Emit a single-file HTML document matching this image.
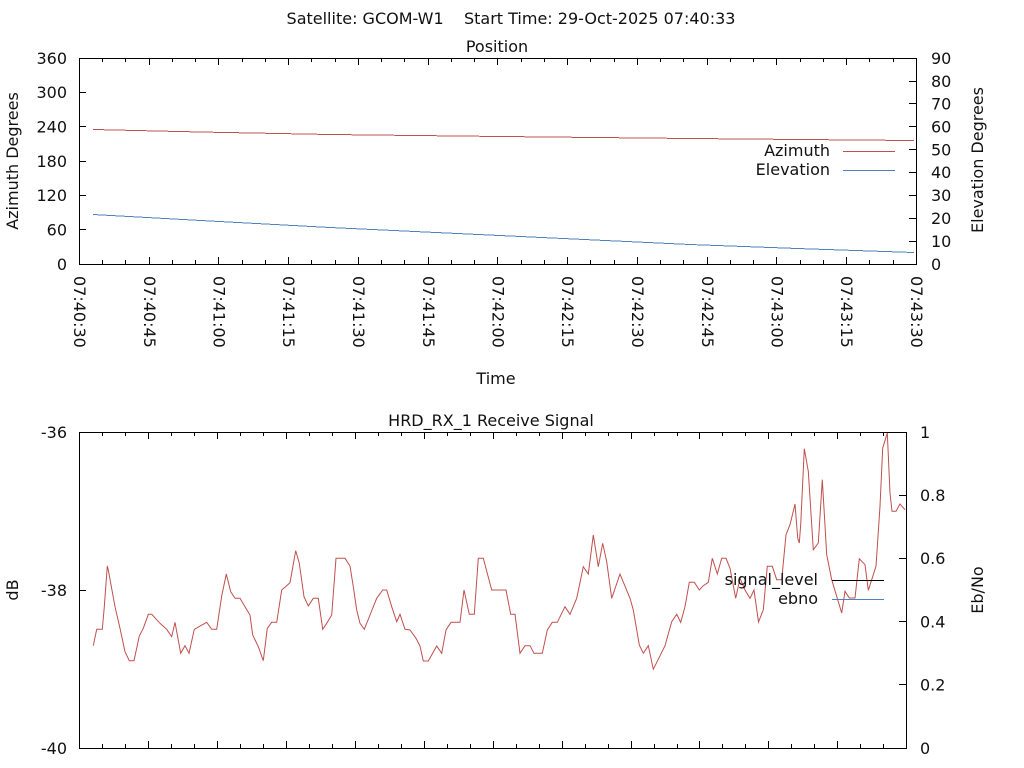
<!DOCTYPE html>
<html><head><meta charset="utf-8"><style>
html,body{margin:0;padding:0;background:#fff;}
svg{display:block;}
text{font-family:"DejaVu Sans","Liberation Sans",sans-serif;font-size:16px;fill:#111;}
</style></head><body>
<svg xmlns="http://www.w3.org/2000/svg" width="1024" height="768" viewBox="0 0 1024 768">
<rect width="1024" height="768" fill="#fff"/>
<text x="511" y="24" text-anchor="middle" xml:space="preserve">Satellite: GCOM-W1    Start Time: 29-Oct-2025 07:40:33</text>
<text x="497" y="52" text-anchor="middle">Position</text>

<!-- upper plot -->
<g stroke="#000" stroke-width="1" fill="none" shape-rendering="crispEdges">
<rect x="79.5" y="58.5" width="837" height="206"/>
<path d="M79.5 58v7M79.5 264v-7
M102.5 58v4M102.5 264v-4M125.5 58v4M125.5 264v-4
M149.5 58v7M149.5 264v-7
M172.5 58v4M172.5 264v-4M195.5 58v4M195.5 264v-4
M218.5 58v7M218.5 264v-7
M242.5 58v4M242.5 264v-4M265.5 58v4M265.5 264v-4
M288.5 58v7M288.5 264v-7
M311.5 58v4M311.5 264v-4M335.5 58v4M335.5 264v-4
M358.5 58v7M358.5 264v-7
M381.5 58v4M381.5 264v-4M404.5 58v4M404.5 264v-4
M428.5 58v7M428.5 264v-7
M451.5 58v4M451.5 264v-4M474.5 58v4M474.5 264v-4
M497.5 58v7M497.5 264v-7
M521.5 58v4M521.5 264v-4M544.5 58v4M544.5 264v-4
M567.5 58v7M567.5 264v-7
M590.5 58v4M590.5 264v-4M614.5 58v4M614.5 264v-4
M637.5 58v7M637.5 264v-7
M660.5 58v4M660.5 264v-4M683.5 58v4M683.5 264v-4
M707.5 58v7M707.5 264v-7
M730.5 58v4M730.5 264v-4M753.5 58v4M753.5 264v-4
M776.5 58v7M776.5 264v-7
M800.5 58v4M800.5 264v-4M823.5 58v4M823.5 264v-4
M846.5 58v7M846.5 264v-7
M869.5 58v4M869.5 264v-4M893.5 58v4M893.5 264v-4
M916.5 58v7M916.5 264v-7
M79 229.5h7M79 195.5h7M79 161.5h7M79 126.5h7M79 92.5h7
M916 241.5h-7M916 218.5h-7M916 195.5h-7M916 172.5h-7M916 149.5h-7M916 126.5h-7M916 103.5h-7M916 81.5h-7"/>
</g>
<g text-anchor="end">
<text x="67" y="64">360</text>
<text x="67" y="98">300</text>
<text x="67" y="132.5">240</text>
<text x="67" y="167">180</text>
<text x="67" y="201">120</text>
<text x="67" y="235.5">60</text>
<text x="67" y="270">0</text>
</g>
<g>
<text x="931" y="64">90</text>
<text x="931" y="87">80</text>
<text x="931" y="109.5">70</text>
<text x="931" y="132.5">60</text>
<text x="931" y="155.5">50</text>
<text x="931" y="178">40</text>
<text x="931" y="201">30</text>
<text x="931" y="224">20</text>
<text x="931" y="247">10</text>
<text x="931" y="270">0</text>
</g>
<text transform="translate(18,161) rotate(-90)" text-anchor="middle">Azimuth Degrees</text>
<text transform="translate(983,160) rotate(-90)" text-anchor="middle">Elevation Degrees</text>

<g>
<text transform="translate(74,276) rotate(90)">07:40:30</text>
<text transform="translate(144,276) rotate(90)">07:40:45</text>
<text transform="translate(213.5,276) rotate(90)">07:41:00</text>
<text transform="translate(283,276) rotate(90)">07:41:15</text>
<text transform="translate(353,276) rotate(90)">07:41:30</text>
<text transform="translate(423,276) rotate(90)">07:41:45</text>
<text transform="translate(492.5,276) rotate(90)">07:42:00</text>
<text transform="translate(562,276) rotate(90)">07:42:15</text>
<text transform="translate(632,276) rotate(90)">07:42:30</text>
<text transform="translate(702,276) rotate(90)">07:42:45</text>
<text transform="translate(771.5,276) rotate(90)">07:43:00</text>
<text transform="translate(841,276) rotate(90)">07:43:15</text>
<text transform="translate(911,276) rotate(90)">07:43:30</text>
</g>
<text x="496" y="384" text-anchor="middle">Time</text>

<polyline fill="none" stroke="#c0504d" stroke-width="1" shape-rendering="crispEdges" points="93,129.5 200,132 330,134.5 500,136.5 690,138.5 800,139.5 914,140.5"/>
<polyline fill="none" stroke="#4f81bd" stroke-width="1" shape-rendering="crispEdges" points="93,214.5 210,221 330,227.5 510,236 690,244.5 800,248.6 914,252.5"/>

<text x="830" y="156" text-anchor="end">Azimuth</text>
<text x="830" y="175" text-anchor="end">Elevation</text>
<g shape-rendering="crispEdges" stroke-width="1">
<path d="M843 151.5h52" stroke="#c0504d"/>
<path d="M843 170.5h52" stroke="#4f81bd"/>
</g>

<!-- lower plot -->
<text x="491" y="426" text-anchor="middle">HRD_RX_1 Receive Signal</text>
<g stroke="#000" stroke-width="1" fill="none" shape-rendering="crispEdges">
<rect x="79.5" y="432.5" width="827" height="316"/>
<path d="M79.5 432v7M79.5 748v-7
M102.5 432v4M102.5 748v-4M125.5 432v4M125.5 748v-4
M148.5 432v7M148.5 748v-7
M171.5 432v4M171.5 748v-4M194.5 432v4M194.5 748v-4
M217.5 432v7M217.5 748v-7
M240.5 432v4M240.5 748v-4M263.5 432v4M263.5 748v-4
M286.5 432v7M286.5 748v-7
M309.5 432v4M309.5 748v-4M332.5 432v4M332.5 748v-4
M355.5 432v7M355.5 748v-7
M378.5 432v4M378.5 748v-4M401.5 432v4M401.5 748v-4
M424.5 432v7M424.5 748v-7
M447.5 432v4M447.5 748v-4M470.5 432v4M470.5 748v-4
M493.5 432v7M493.5 748v-7
M516.5 432v4M516.5 748v-4M539.5 432v4M539.5 748v-4
M562.5 432v7M562.5 748v-7
M585.5 432v4M585.5 748v-4M608.5 432v4M608.5 748v-4
M631.5 432v7M631.5 748v-7
M654.5 432v4M654.5 748v-4M677.5 432v4M677.5 748v-4
M699.5 432v7M699.5 748v-7
M722.5 432v4M722.5 748v-4M745.5 432v4M745.5 748v-4
M768.5 432v7M768.5 748v-7
M791.5 432v4M791.5 748v-4M814.5 432v4M814.5 748v-4
M837.5 432v7M837.5 748v-7
M860.5 432v4M860.5 748v-4M883.5 432v4M883.5 748v-4
M906.5 432v7M906.5 748v-7
M79 590.5h7
M906 495.5h-7M906 558.5h-7M906 621.5h-7M906 684.5h-7"/>
</g>
<g text-anchor="end">
<text x="67" y="438">-36</text>
<text x="67" y="596">-38</text>
<text x="67" y="754">-40</text>
</g>
<g>
<text x="920" y="438">1</text>
<text x="920" y="501">0.8</text>
<text x="920" y="564">0.6</text>
<text x="920" y="627.5">0.4</text>
<text x="920" y="690.5">0.2</text>
<text x="920" y="754">0</text>
</g>
<text transform="translate(18,590) rotate(-90)" text-anchor="middle">dB</text>
<text transform="translate(983,590) rotate(-90)" text-anchor="middle">Eb/No</text>

<polyline fill="none" stroke="#c0504d" stroke-width="1" points="93.3,645.7 96.7,629.3 102.3,629.3 104.3,606.7 107.3,566 108.3,570 115,606.7 120,628.3 125,651.7 129.3,660.7 134,660.7 139.3,636 143.3,628.3 148.3,614.3 151.7,614.3 160,623.3 166.7,629.3 171.7,636.7 175,622.3 180.7,653.3 185,645.7 189,653.3 194.3,629.3 206.7,622.3 211.7,629.3 216.7,629.3 221.7,596 226.3,574 230.7,591.7 235,598.3 240,598.3 245,606.7 250,615 252.7,635 258.3,646.7 263.3,660.7 267.3,628.3 271.7,622.3 276.7,622.3 281.7,590 290,582.7 295.7,550.7 299.3,563.3 304,596.7 308.3,606 313.3,598.3 318.3,598.3 322.7,629.3 326.7,623.3 331.7,615 336,558.3 345,558.3 350,566 353.3,586.7 356.7,610 360,623.3 364.3,629.3 370,615 376.7,598.3 382.7,590 386.7,590 391.7,606.7 396.7,621.7 400,614.3 405,629.3 410,630 416,638.3 420,646 423.3,661 428.3,661 436.7,646 441.7,653.3 446,630 451,622.3 460,622.3 464,590 469.3,614.3 474.3,614.3 478.3,558.3 483.3,558.3 491.7,590 506,590 510.7,614.3 515,614.3 520,653.3 525,645.7 530,645.7 534,653.3 542.3,653.3 547.3,630 552.3,622.3 557.3,622.3 565,606.7 570,614.3 576.7,598.3 583.3,566.7 588.3,574 593.3,535 598.3,566.7 602.7,543.3 606.7,561.7 611.7,598.3 620,574 630,598.3 633.3,610 639.3,645 643.3,653.3 648.3,645.7 653.3,669.3 665,645.7 671.7,621.7 676.7,614.3 680.7,622.3 685,606.7 689.3,582.3 694.3,582.3 699.3,590 703.3,585.7 708.3,582.3 712.3,558.3 717.3,574 721.7,558.3 726,558.3 730,568.3 735.7,598.3 740,578.3 745,590 750,598.3 754,590 758.5,622 763.3,609.7 767.3,566.3 772.3,566.3 776.7,579.7 781.7,579.7 786,534.7 790,524.7 795,504 797.7,538 799.3,543 800.7,524.7 804.3,448.7 808.3,471.3 813.3,549.7 818.3,543 822.3,479.7 826.7,554.7 831.7,579.7 841.7,613 845,591.3 849.3,598 855,598 859.3,558.7 865,564.7 868.3,590.3 876,566.3 880,506.3 882.7,448 887.3,433 890,493 892,511.3 896,511.3 900,504 905,509.7"/>

<text x="818" y="585" text-anchor="end">signal_level</text>
<text x="818" y="604" text-anchor="end">ebno</text>
<g shape-rendering="crispEdges" stroke-width="1">
<path d="M832 580.5h52" stroke="#000"/>
<path d="M832 599.5h52" stroke="#4f81bd"/>
</g>
</svg>
</body></html>
